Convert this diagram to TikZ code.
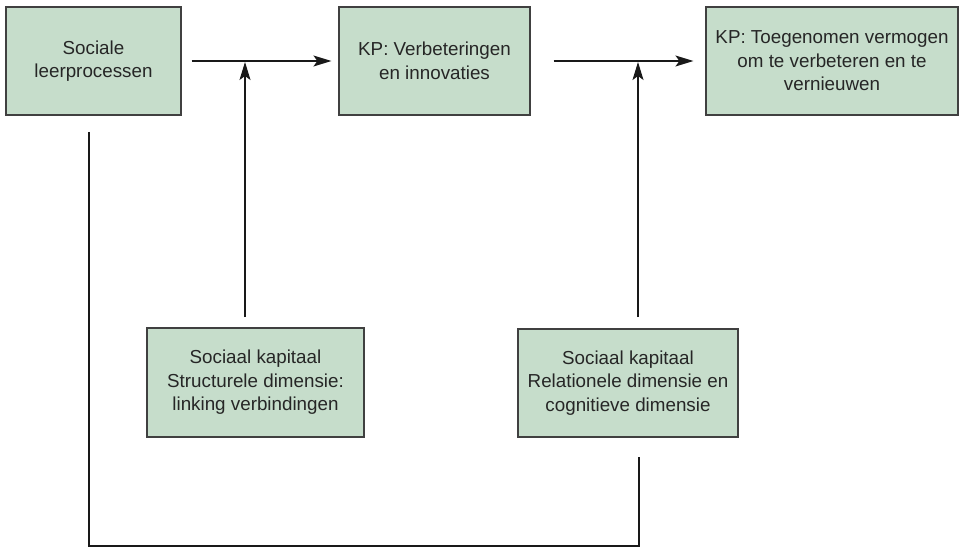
\documentclass[tikz,border=0pt]{standalone}
\usepackage{fontspec}
\setmainfont{Liberation Sans}
\usetikzlibrary{arrows.meta}
\definecolor{boxfill}{HTML}{C6DDCB}
\definecolor{boxline}{HTML}{404040}
\begin{document}
\begin{tikzpicture}[x=1pt,y=-1pt,
  box/.style={draw=boxline,line width=1.2pt,fill=boxfill,align=center,inner sep=0pt,
    font=\fontsize{18.8}{23.5}\selectfont,text=black!85},
  conn/.style={line width=1.2pt,draw=black!90},
  arr/.style={conn,-{Stealth[length=18pt,width=11pt,inset=4pt]}}]
\useasboundingbox (0,0) rectangle (963,548);
\node[box,minimum width=175pt,minimum height=108pt] (b1) at (93.5,61) {Sociale\\leerprocessen};
\node[box,minimum width=191pt,minimum height=108pt] (b2) at (434.5,61) {KP: Verbeteringen\\en innovaties};
\node[box,minimum width=252pt,minimum height=108pt] (b3) at (832,61) {KP: Toegenomen vermogen\\om te verbeteren en te\\vernieuwen};
\node[box,minimum width=217pt,minimum height=109pt] (b4) at (255.5,382.5) {Sociaal kapitaal\\Structurele dimensie:\\linking verbindingen};
\node[box,minimum width=220pt,minimum height=108pt] (b5) at (628,383) {Sociaal kapitaal\\Relationele dimensie en\\cognitieve dimensie};
\draw[arr] ([xshift=10pt]b1.east) -- ([xshift=-7pt]b2.west);
\draw[arr] ([xshift=23pt]b2.east) -- ([xshift=-12pt]b3.west);
\coordinate (m1) at (245,62);
\coordinate (s1) at (245,317);
\coordinate (m2) at (638,62);
\coordinate (s2) at (638,317);
\draw[arr] (s1) -- (m1);
\draw[arr] (s2) -- (m2);
\coordinate (f0) at (89,132);
\coordinate (f1) at (89,546);
\coordinate (f2) at (639,546);
\coordinate (f3) at (639,457);
\draw[conn] (f0) -- (f1) -- (f2) -- (f3);
\end{tikzpicture}
\end{document}
